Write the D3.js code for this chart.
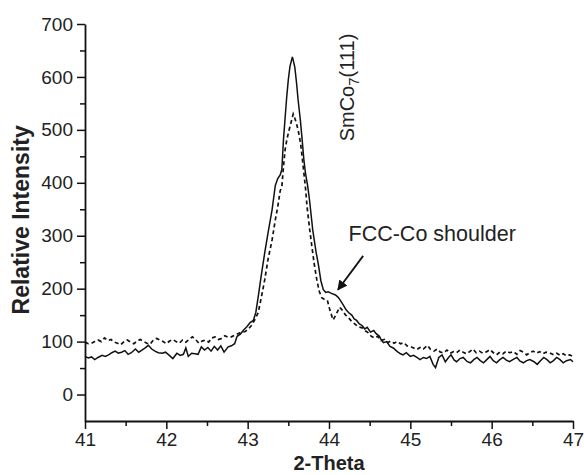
<!DOCTYPE html>
<html>
<head>
<meta charset="utf-8">
<script src="https://cdn.jsdelivr.net/npm/d3@7"></script>
<style>
  body { margin: 0; background: #fff; }
  text { font-family: "Liberation Sans", Arial, sans-serif; fill: #222; }
</style>
</head>
<body>
<div id="canvas"></div>
<script>
// solid trace
const solidTheta = [41.00,41.04,41.08,41.12,41.16,41.21,41.25,41.29,41.33,41.37,41.41,41.45,41.49,41.53,41.57,41.62,41.66,41.70,41.74,41.78,41.82,41.86,41.90,41.95,41.99,42.03,42.08,42.13,42.17,42.21,42.24,42.27,42.31,42.35,42.39,42.43,42.47,42.51,42.55,42.59,42.63,42.67,42.71,42.76,42.80,42.84,42.87,42.91,42.95,42.99,43.03,43.07,43.10,43.13,43.17,43.21,43.25,43.30,43.34,43.37,43.40,43.42,43.44,43.46,43.48,43.50,43.52,43.55,43.58,43.60,43.62,43.65,43.67,43.69,43.71,43.74,43.76,43.80,43.84,43.87,43.90,43.93,43.96,43.99,44.03,44.08,44.11,44.14,44.18,44.21,44.24,44.28,44.31,44.34,44.37,44.41,44.44,44.47,44.51,44.55,44.58,44.62,44.64,44.67,44.71,44.75,44.79,44.84,44.88,44.91,44.95,45.00,45.04,45.08,45.12,45.16,45.20,45.24,45.28,45.31,45.35,45.39,45.43,45.47,45.50,45.54,45.57,45.61,45.65,45.70,45.74,45.78,45.82,45.86,45.90,45.94,45.98,46.02,46.06,46.10,46.14,46.18,46.22,46.27,46.31,46.35,46.39,46.43,46.47,46.52,46.56,46.60,46.64,46.68,46.72,46.76,46.80,46.84,46.88,46.92,46.97,47.00];
const solidIntensity = [72,69,71,66,70,74,72,75,79,82,78,80,83,76,79,86,80,84,88,93,86,82,79,78,80,75,68,78,74,76,88,72,78,77,76,90,84,89,82,91,84,92,80,90,92,96,110,114,122,128,136,140,155,185,228,268,305,349,395,408,415,425,481,522,562,595,620,638,618,590,557,515,481,445,419,392,368,311,270,245,215,198,193,194,191,188,184,178,168,160,155,150,143,140,134,130,124,127,118,121,115,110,104,98,100,91,88,81,77,75,79,72,74,70,66,70,68,72,57,51,70,75,62,70,75,65,62,68,70,62,60,66,70,64,60,66,72,64,60,66,70,65,62,67,70,63,60,64,66,62,57,64,70,66,60,64,70,66,60,64,66,62];

// dashed trace
const dashedTheta = [41.00,41.04,41.08,41.12,41.16,41.20,41.24,41.28,41.32,41.36,41.40,41.44,41.48,41.52,41.56,41.60,41.64,41.68,41.72,41.76,41.80,41.84,41.88,41.92,41.96,42.00,42.04,42.08,42.12,42.16,42.20,42.24,42.28,42.32,42.36,42.40,42.44,42.48,42.52,42.56,42.60,42.64,42.68,42.72,42.76,42.80,42.84,42.88,42.92,42.97,43.01,43.05,43.09,43.13,43.17,43.21,43.25,43.30,43.34,43.37,43.40,43.42,43.44,43.46,43.48,43.50,43.53,43.56,43.58,43.60,43.62,43.65,43.67,43.69,43.71,43.73,43.76,43.79,43.82,43.85,43.88,43.91,43.94,43.98,44.01,44.05,44.09,44.13,44.16,44.20,44.24,44.28,44.32,44.36,44.41,44.45,44.48,44.52,44.56,44.60,44.64,44.68,44.72,44.76,44.80,44.84,44.88,44.92,44.96,45.00,45.04,45.08,45.12,45.16,45.21,45.25,45.29,45.33,45.37,45.41,45.45,45.49,45.53,45.57,45.61,45.65,45.69,45.73,45.77,45.81,45.85,45.89,45.94,45.98,46.02,46.06,46.10,46.14,46.18,46.22,46.27,46.31,46.35,46.39,46.43,46.47,46.51,46.55,46.59,46.63,46.67,46.71,46.76,46.80,46.84,46.88,46.92,46.96,47.00];
const dashedIntensity = [99,96,97,100,103,100,107,102,104,99,97,94,100,103,99,96,101,104,100,97,95,103,106,103,100,96,101,104,100,97,103,99,104,109,104,97,101,103,99,107,109,104,106,111,108,109,112,115,118,119,124,131,142,155,185,217,255,292,330,355,385,392,430,462,480,494,512,530,522,512,500,475,449,420,392,355,315,279,245,217,195,183,180,178,160,141,152,165,160,151,145,138,133,128,126,120,117,110,107,110,102,104,98,101,97,100,96,98,92,91,88,85,89,86,93,85,82,86,80,79,84,78,81,79,84,80,77,81,86,79,82,78,81,85,79,75,80,77,82,79,81,76,83,80,75,79,82,78,81,77,80,79,75,78,74,77,73,75,72];

const xTicks = [41, 42, 43, 44, 45, 46, 47];
const yTicks = [0, 100, 200, 300, 400, 500, 600, 700];

const width = 584;
const height = 475;
const margin = { top: 24, left: 85, bottom: 54, right: 11 };
const iwidth = width - margin.left - margin.right;
const iheight = height - margin.top - margin.bottom;

const svg = d3.select("#canvas").append("svg")
    .attr("width", width)
    .attr("height", height);

const g = svg.append("g")
    .attr("transform", `translate(${margin.left},${margin.top})`);

const x = d3.scaleLinear().domain([41, 47]).range([0, iwidth]);
const y = d3.scaleLinear().domain([-50, 700]).range([iheight, 0]);

// minor ticks first, majors on top
g.append("g")
    .attr("transform", `translate(0,${iheight})`)
    .call(d3.axisBottom(x).tickValues(d3.range(41.5, 47, 1)).tickSize(5).tickFormat(""))
    .call(a => a.select(".domain").remove());
g.append("g")
    .call(d3.axisLeft(y).tickValues(d3.range(50, 700, 100)).tickSize(5).tickFormat(""))
    .call(a => a.select(".domain").remove());

g.append("g")
    .attr("transform", `translate(0,${iheight})`)
    .call(d3.axisBottom(x).tickValues(xTicks).tickFormat(d3.format("d"))
        .tickSize(8).tickSizeOuter(0).tickPadding(4));
g.append("g")
    .call(d3.axisLeft(y).tickValues(yTicks).tickSize(8).tickSizeOuter(0).tickPadding(4));

g.selectAll(".tick line").attr("stroke", "#111").attr("stroke-width", 1.5);
g.selectAll(".domain").attr("stroke", "#111").attr("stroke-width", 1.8);
g.selectAll(".tick text")
    .style("font-family", "'Liberation Sans', Arial, sans-serif")
    .style("font-size", "19px")
    .attr("fill", "#222");

const line = d3.line()
    .x(d => x(d[0]))
    .y(d => y(d[1]));

g.append("path")
    .datum(d3.zip(dashedTheta, dashedIntensity))
    .attr("fill", "none")
    .attr("stroke", "#111")
    .attr("stroke-width", 1.7)
    .attr("stroke-dasharray", "4,3")
    .attr("d", line);

g.append("path")
    .datum(d3.zip(solidTheta, solidIntensity))
    .attr("fill", "none")
    .attr("stroke", "#111")
    .attr("stroke-width", 1.5)
    .attr("d", line);

// axis titles
svg.append("text")
    .attr("x", margin.left + iwidth / 2)
    .attr("y", 470)
    .attr("text-anchor", "middle")
    .style("font-size", "20px")
    .style("font-weight", "bold")
    .text("2-Theta");

svg.append("text")
    .attr("transform", `translate(29,${margin.top + y(330)}) rotate(-90)`)
    .attr("text-anchor", "middle")
    .style("font-size", "23px")
    .style("font-weight", "bold")
    .text("Relative Intensity");

// peak label
const peak = g.append("text")
    .attr("transform", `translate(${x(44.31)},${y(580)}) rotate(-90)`)
    .attr("text-anchor", "middle")
    .style("font-size", "20px");
peak.append("tspan").text("SmCo");
peak.append("tspan").attr("dy", 5).style("font-size", "15px").text("7");
peak.append("tspan").attr("dy", -5).text("(111)");

// shoulder annotation
g.append("text")
    .attr("x", x(44.24))
    .attr("y", y(290))
    .style("font-size", "21.5px")
    .text("FCC-Co shoulder");

svg.append("defs").append("marker")
    .attr("id", "head")
    .attr("viewBox", "0 0 10 10")
    .attr("refX", 9).attr("refY", 5)
    .attr("markerWidth", 10).attr("markerHeight", 10)
    .attr("markerUnits", "userSpaceOnUse")
    .attr("orient", "auto")
    .append("path")
    .attr("d", "M0,0 L10,5 L0,10 z")
    .attr("fill", "#111");

g.append("line")
    .attr("x1", x(44.42)).attr("y1", y(262))
    .attr("x2", x(44.11)).attr("y2", y(198))
    .attr("stroke", "#111")
    .attr("stroke-width", 1.8)
    .attr("marker-end", "url(#head)");
</script>
</body>
</html>
